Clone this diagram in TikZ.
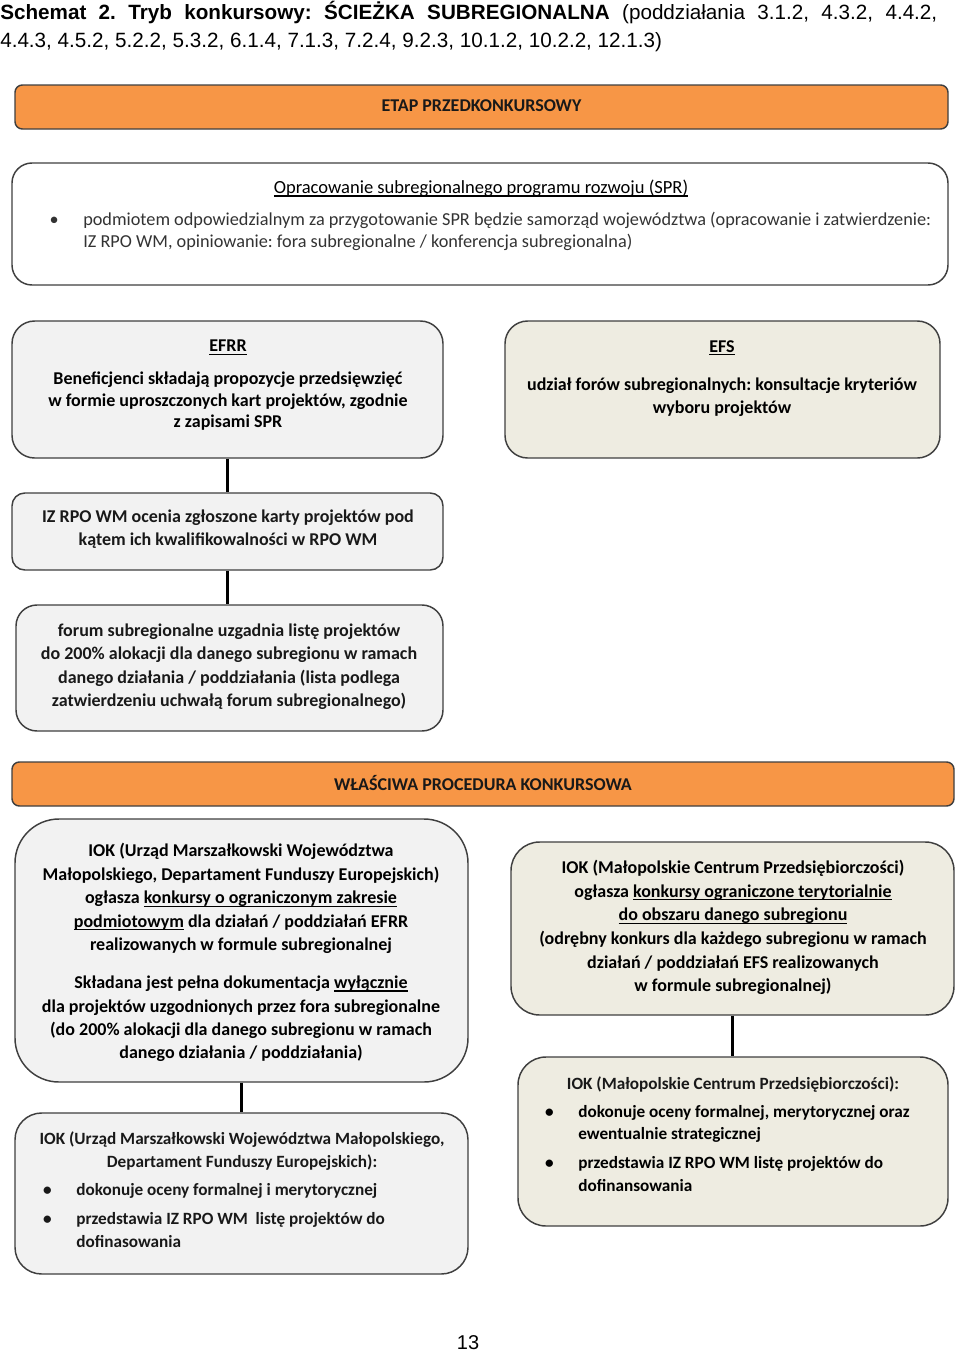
\documentclass[tikz,border=0pt]{standalone}
\usepackage{fontspec}
\setmainfont{Carlito}
\newfontfamily\arialfont{Liberation Sans}
\frenchspacing
\definecolor{pomar}{HTML}{F79646}
\definecolor{szary}{HTML}{F2F2F2}
\definecolor{bez}{HTML}{EEECE1}
\definecolor{ramka}{HTML}{3F3F3F}
\newcommand\tekst{\fontsize{13.5}{17.5}\selectfont\bfseries\color{black!90}}
\newcommand\drobny{\fontsize{12.9}{17.2}\selectfont\bfseries\color{black!90}}
\newcommand\pkt{\noindent\llap{\textbullet\hspace{18.5pt}}\strut}
\newsavebox\podkrbox
\newcommand\podkr[1]{\leavevmode\sbox\podkrbox{#1}\rlap{\rule[-2.2pt]{\wd\podkrbox}{0.8pt}}\usebox{\podkrbox}}
\tikzset{
  blok/.style={draw=ramka, line width=1.1pt, inner sep=0pt, rectangle},
  etap/.style={blok, fill=pomar, rounded corners=5.5pt, minimum height=33pt, font=\tekst},
  opis/.style={inner sep=0pt, anchor=north, align=center, font=\tekst},
  lista/.style={inner sep=0pt, anchor=north west, align=flush left, text width=300pt, font=\drobny},
  lacz/.style={line width=2.4pt}
}
\begin{document}
\begin{tikzpicture}[x=0.75pt,y=-0.75pt]
 \useasboundingbox (0,0) rectangle (960,1353);
 \node[inner sep=0pt, anchor=north west, text width=702.75pt, align=justify,
   font=\arialfont\fontsize{15.5}{21}\selectfont] (tytul) at (0,0)
   {\strut\textbf{Schemat 2. Tryb konkursowy: ŚCIEŻKA SUBREGIONALNA} (poddziałania 3.1.2, 4.3.2, 4.4.2,\linebreak
    4.4.3, 4.5.2, 5.2.2, 5.3.2, 6.1.4, 7.1.3, 7.2.4, 9.2.3, 10.1.2, 10.2.2, 12.1.3)};

 \node[etap, minimum width=699.75pt] (etap1) at (481.5,107) {\raisebox{2pt}{ETAP PRZEDKONKURSOWY}};
 \node[blok, fill=white, rounded corners=15pt, minimum width=702pt, minimum height=91.5pt] (spr) at (480,224) {};
 \node[blok, fill=szary, rounded corners=17pt, minimum width=323.25pt, minimum height=102.75pt] (efrr) at (227.5,389.5) {};
 \node[blok, fill=bez, rounded corners=17pt, minimum width=326.25pt, minimum height=102.75pt] (efs) at (722.5,389.5) {};
 \node[blok, fill=szary, rounded corners=9.6pt, minimum width=323.25pt, minimum height=57.75pt] (ocena) at (227.5,531.5) {};
 \node[blok, fill=szary, rounded corners=15.75pt, minimum width=320.25pt, minimum height=94.5pt] (forum) at (229.5,668) {};
 \node[etap, minimum width=706.5pt] (etap2) at (483,784) {\raisebox{1.5pt}{WŁAŚCIWA PROCEDURA KONKURSOWA}};
 \node[blok, fill=szary, rounded corners=33pt, minimum width=339.75pt, minimum height=197.25pt] (iokl) at (241.5,950.5) {};
 \node[blok, fill=szary, rounded corners=20pt, minimum width=339.75pt, minimum height=120.75pt] (ocenal) at (241.5,1193.5) {};
 \node[blok, fill=bez, rounded corners=21.5pt, minimum width=332.25pt, minimum height=129.75pt] (iokr) at (732.5,928.5) {};
 \node[blok, fill=bez, rounded corners=21pt, minimum width=322.5pt, minimum height=126.75pt] (ocenar) at (733,1141.5) {};

 \draw[lacz] (efrr) -- (ocena);
 \draw[lacz] (ocena.south) -- (ocena.south |- forum.north);
 \draw[lacz] (iokl) -- (ocenal);
 \draw[lacz] (iokr.south) -- (iokr.south |- ocenar.north);

 \node[opis, font=\fontsize{13.9}{17.5}\selectfont] (sprt) at (481,177)
   {\strut\podkr{Opracowanie subregionalnego programu rozwoju (SPR)}};
 \node[lista, text width=680pt, font=\fontsize{13.7}{16.5}\selectfont\color{black!80}] (sprl) at (83,210)
   {\pkt podmiotem odpowiedzialnym za przygotowanie SPR będzie samorząd województwa (opracowanie i zatwierdzenie:\\
    IZ RPO WM, opiniowanie: fora subregionalne / konferencja subregionalna)};
 \node[opis, font=\fontsize{13.5}{16.1}\selectfont\bfseries] (efrrt) at (228,336.5)
   {\strut\podkr{EFRR}\\[8.6pt]
    Beneficjenci składają propozycje przedsięwzięć\\
    w formie uproszczonych kart projektów, zgodnie\\
    z zapisami SPR};
 \node[opis, font=\fontsize{13.5}{17.25}\selectfont\bfseries] (efst) at (722,336)
   {\strut\podkr{EFS}\\[11.25pt]
    udział forów subregionalnych: konsultacje kryteriów\\
    wyboru projektów};
 \node[opis] (ocenat) at (228,506)
   {\strut IZ RPO WM ocenia zgłoszone karty projektów pod\\
    kątem ich kwalifikowalności w RPO WM};
 \node[opis] (forumt) at (229,620)
   {\strut forum subregionalne uzgadnia listę projektów\\
    do 200\% alokacji dla danego subregionu w ramach\\
    danego działania / poddziałania (lista podlega\\
    zatwierdzeniu uchwałą forum subregionalnego)};
 \node[opis, font=\fontsize{13.5}{17.6}\selectfont\bfseries] (ioklt) at (241,840)
   {\strut IOK (Urząd Marszałkowski Województwa\\
    Małopolskiego, Departament Funduszy Europejskich)\\
    ogłasza \podkr{konkursy o ograniczonym zakresie}\\
    \podkr{podmiotowym} dla działań / poddziałań EFRR\\
    realizowanych w formule subregionalnej\\[10.9pt]
    Składana jest pełna dokumentacja \podkr{wyłącznie}\\
    dla projektów uzgodnionych przez fora subregionalne\\
    (do 200\% alokacji dla danego subregionu w ramach\\
    danego działania / poddziałania)};
 \node[opis, font=\drobny] (ocenalt) at (242,1128)
   {\strut IOK (Urząd Marszałkowski Województwa Małopolskiego,\\
    Departament Funduszy Europejskich):};
 \node[lista] (ocenall) at (76,1179)
   {\pkt dokonuje oceny formalnej i merytorycznej\par\vspace{4.5pt}
    \pkt przedstawia IZ RPO WM~ listę projektów do\\
    dofinasowania};
 \node[opis, font=\fontsize{13.5}{17.7}\selectfont\bfseries] (iokrt) at (733,857)
   {\strut IOK (Małopolskie Centrum Przedsiębiorczości)\\
    ogłasza \podkr{konkursy ograniczone terytorialnie}\\
    \podkr{do obszaru danego subregionu}\\
    (odrębny konkurs dla każdego subregionu w ramach\\
    działań / poddziałań EFS realizowanych\\
    w formule subregionalnej)};
 \node[opis, font=\drobny] (ocenart) at (733,1073)
   {\strut IOK (Małopolskie Centrum Przedsiębiorczości):};
 \node[lista, font=\fontsize{12.9}{16.9}\selectfont\bfseries] (ocenarl) at (578,1101)
   {\pkt dokonuje oceny formalnej, merytorycznej oraz\\
    ewentualnie strategicznej\par\vspace{4.9pt}
    \pkt przedstawia IZ RPO WM listę projektów do\\
    dofinansowania};

 \node[inner sep=0pt, font=\arialfont\fontsize{15}{18}\selectfont] (strona) at (468,1343) {13};
\end{tikzpicture}
\end{document}
